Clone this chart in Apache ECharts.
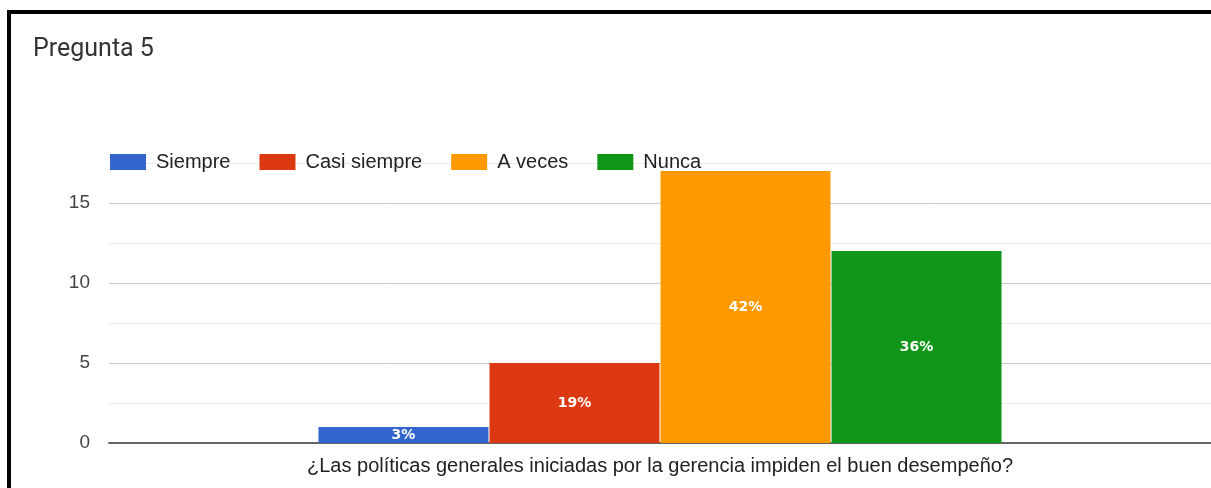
<!DOCTYPE html>
<html>
<head>
<meta charset="utf-8">
<script src="https://cdn.jsdelivr.net/npm/echarts@6/dist/echarts.min.js"></script>
<style>
  html, body { margin: 0; padding: 0; background: #fff; }
  #chart { width: 1211px; height: 488px; }
</style>
</head>
<body>
<div id="chart"></div>
<script>
// datos de la pregunta
const question = '¿Las políticas generales iniciadas por la gerencia impiden el buen desempeño?';
const answers = ['Siempre', 'Casi siempre', 'A veces', 'Nunca'];
const counts = [1, 5, 17, 12];
const percents = ['3%', '19%', '42%', '36%'];
const colors = ['#3366cc', '#dc3912', '#ff9900', '#109618'];

const chart = echarts.init(document.getElementById('chart'));

const series = answers.map((name, i) => ({
    name: name,
    type: 'bar',
    data: [counts[i]],
    barWidth: 170,
    barGap: '0.6%',
    itemStyle: { color: colors[i] },
    label: {
        show: true,
        position: 'inside',
        formatter: () => percents[i],
        color: '#fff',
        fontWeight: 'bold',
        fontSize: 14,
        fontFamily: 'DejaVu Sans'
    }
}));

chart.setOption({
    animation: false,
    //marco negro
    graphic: [{
        type: 'rect',
        shape: { x: 9, y: 12, width: 1400, height: 700 },
        style: { fill: 'none', stroke: '#000', lineWidth: 4 },
        silent: true
    }],
    title: {
        text: 'Pregunta 5',
        left: 28,
        top: 32,
        textStyle: { fontFamily: 'Roboto', fontSize: 25, fontWeight: 'normal', color: '#333' }
    },
    legend: {
        left: 105,
        top: 147,
        itemWidth: 36,
        itemHeight: 16,
        itemGap: 29,
        icon: 'rect',
        textStyle: { fontFamily: 'Liberation Sans', fontSize: 20, color: '#222', padding: [0, 0, 0, 5] }
    },
    grid: { left: 109, right: 0, top: 163, bottom: 45 },
    xAxis: {
        type: 'category',
        data: [question],
        name: question,
        nameLocation: 'middle',
        nameGap: 13,
        nameTextStyle: { fontFamily: 'Liberation Sans', fontSize: 20, color: '#222' },
        axisLabel: { show: false },
        axisTick: { show: false },
        axisLine: { lineStyle: { color: '#666', width: 2 } }
    },
    yAxis: {
        type: 'value',
        min: 0,
        max: 17.5,
        interval: 2.5,
        axisLabel: {
            margin: 19,
            fontFamily: 'Liberation Sans',
            fontSize: 19,
            color: '#444',
            formatter: v => (v % 5 === 0 ? String(v) : '')
        },
        splitLine: { lineStyle: { color: ['#ccc', '#ebebeb'], width: 1 } }
    },
    series: series
});
</script>
</body>
</html>
